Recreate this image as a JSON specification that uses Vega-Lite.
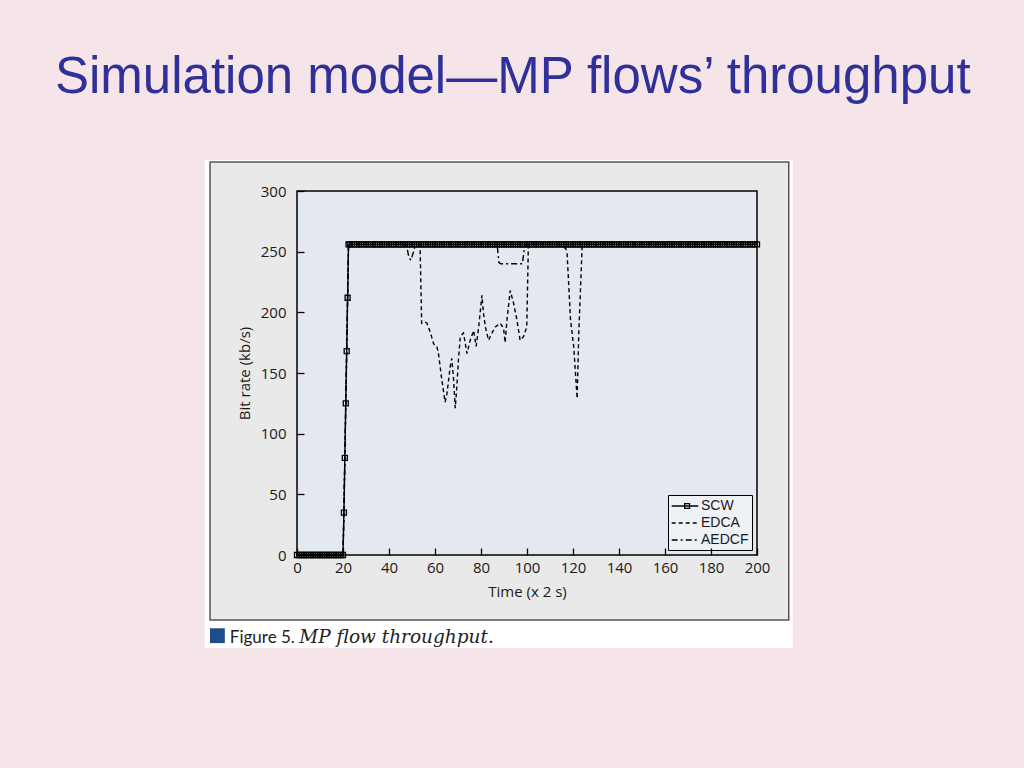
{
  "$schema": "https://vega.github.io/schema/vega-lite/v6.json",
  "width": 460,
  "height": 364,
  "autosize": {"type": "none"},
  "padding": {"left": 297, "top": 191, "right": 267, "bottom": 213},
  "background": "#f5e5e8",
  "title": {
    "text": "Simulation model—MP flows’ throughput",
    "frame": "group",
    "anchor": "start",
    "orient": "top",
    "baseline": "alphabetic",
    "offset": 16,
    "dx": -242,
    "font": "Liberation Sans",
    "fontSize": 51,
    "fontWeight": "normal",
    "color": "#30309a"
  },
  "config": {
    "view": {"stroke": null},
    "axis": {
      "grid": false,
      "domain": false,
      "tickColor": "black",
      "tickWidth": 1.3,
      "labelFont": "Open Sans",
      "labelFontSize": 15,
      "labelColor": "#1a1a1a",
      "titleFont": "Open Sans",
      "titleFontSize": 15,
      "titleFontWeight": "normal",
      "titleColor": "#1a1a1a"
    }
  },
  "datasets": {
    "series": [
      {"s":"SCW","t":0,"v":0},{"s":"SCW","t":1,"v":0},{"s":"SCW","t":2,"v":0},{"s":"SCW","t":3,"v":0},{"s":"SCW","t":4,"v":0},{"s":"SCW","t":5,"v":0},{"s":"SCW","t":6,"v":0},{"s":"SCW","t":7,"v":0},{"s":"SCW","t":8,"v":0},{"s":"SCW","t":9,"v":0},{"s":"SCW","t":10,"v":0},{"s":"SCW","t":11,"v":0},{"s":"SCW","t":12,"v":0},{"s":"SCW","t":13,"v":0},{"s":"SCW","t":14,"v":0},{"s":"SCW","t":15,"v":0},{"s":"SCW","t":16,"v":0},{"s":"SCW","t":17,"v":0},{"s":"SCW","t":18,"v":0},{"s":"SCW","t":19,"v":0},{"s":"SCW","t":20,"v":0},
      {"s":"SCW","t":20.4,"v":35},{"s":"SCW","t":20.8,"v":80},{"s":"SCW","t":21.2,"v":125},{"s":"SCW","t":21.6,"v":168},{"s":"SCW","t":22,"v":212},{"s":"SCW","t":22.4,"v":256},
      {"s":"SCW","t":23,"v":256},{"s":"SCW","t":24,"v":256},{"s":"SCW","t":25,"v":256},{"s":"SCW","t":26,"v":256},{"s":"SCW","t":27,"v":256},{"s":"SCW","t":28,"v":256},{"s":"SCW","t":29,"v":256},{"s":"SCW","t":30,"v":256},{"s":"SCW","t":31,"v":256},{"s":"SCW","t":32,"v":256},{"s":"SCW","t":33,"v":256},{"s":"SCW","t":34,"v":256},{"s":"SCW","t":35,"v":256},{"s":"SCW","t":36,"v":256},{"s":"SCW","t":37,"v":256},{"s":"SCW","t":38,"v":256},{"s":"SCW","t":39,"v":256},{"s":"SCW","t":40,"v":256},
      {"s":"SCW","t":41,"v":256},{"s":"SCW","t":42,"v":256},{"s":"SCW","t":43,"v":256},{"s":"SCW","t":44,"v":256},{"s":"SCW","t":45,"v":256},{"s":"SCW","t":46,"v":256},{"s":"SCW","t":47,"v":256},{"s":"SCW","t":48,"v":256},{"s":"SCW","t":49,"v":256},{"s":"SCW","t":50,"v":256},{"s":"SCW","t":51,"v":256},{"s":"SCW","t":52,"v":256},{"s":"SCW","t":53,"v":256},{"s":"SCW","t":54,"v":256},{"s":"SCW","t":55,"v":256},{"s":"SCW","t":56,"v":256},{"s":"SCW","t":57,"v":256},{"s":"SCW","t":58,"v":256},{"s":"SCW","t":59,"v":256},{"s":"SCW","t":60,"v":256},
      {"s":"SCW","t":61,"v":256},{"s":"SCW","t":62,"v":256},{"s":"SCW","t":63,"v":256},{"s":"SCW","t":64,"v":256},{"s":"SCW","t":65,"v":256},{"s":"SCW","t":66,"v":256},{"s":"SCW","t":67,"v":256},{"s":"SCW","t":68,"v":256},{"s":"SCW","t":69,"v":256},{"s":"SCW","t":70,"v":256},{"s":"SCW","t":71,"v":256},{"s":"SCW","t":72,"v":256},{"s":"SCW","t":73,"v":256},{"s":"SCW","t":74,"v":256},{"s":"SCW","t":75,"v":256},{"s":"SCW","t":76,"v":256},{"s":"SCW","t":77,"v":256},{"s":"SCW","t":78,"v":256},{"s":"SCW","t":79,"v":256},{"s":"SCW","t":80,"v":256},
      {"s":"SCW","t":81,"v":256},{"s":"SCW","t":82,"v":256},{"s":"SCW","t":83,"v":256},{"s":"SCW","t":84,"v":256},{"s":"SCW","t":85,"v":256},{"s":"SCW","t":86,"v":256},{"s":"SCW","t":87,"v":256},{"s":"SCW","t":88,"v":256},{"s":"SCW","t":89,"v":256},{"s":"SCW","t":90,"v":256},{"s":"SCW","t":91,"v":256},{"s":"SCW","t":92,"v":256},{"s":"SCW","t":93,"v":256},{"s":"SCW","t":94,"v":256},{"s":"SCW","t":95,"v":256},{"s":"SCW","t":96,"v":256},{"s":"SCW","t":97,"v":256},{"s":"SCW","t":98,"v":256},{"s":"SCW","t":99,"v":256},{"s":"SCW","t":100,"v":256},
      {"s":"SCW","t":101,"v":256},{"s":"SCW","t":102,"v":256},{"s":"SCW","t":103,"v":256},{"s":"SCW","t":104,"v":256},{"s":"SCW","t":105,"v":256},{"s":"SCW","t":106,"v":256},{"s":"SCW","t":107,"v":256},{"s":"SCW","t":108,"v":256},{"s":"SCW","t":109,"v":256},{"s":"SCW","t":110,"v":256},{"s":"SCW","t":111,"v":256},{"s":"SCW","t":112,"v":256},{"s":"SCW","t":113,"v":256},{"s":"SCW","t":114,"v":256},{"s":"SCW","t":115,"v":256},{"s":"SCW","t":116,"v":256},{"s":"SCW","t":117,"v":256},{"s":"SCW","t":118,"v":256},{"s":"SCW","t":119,"v":256},{"s":"SCW","t":120,"v":256},
      {"s":"SCW","t":121,"v":256},{"s":"SCW","t":122,"v":256},{"s":"SCW","t":123,"v":256},{"s":"SCW","t":124,"v":256},{"s":"SCW","t":125,"v":256},{"s":"SCW","t":126,"v":256},{"s":"SCW","t":127,"v":256},{"s":"SCW","t":128,"v":256},{"s":"SCW","t":129,"v":256},{"s":"SCW","t":130,"v":256},{"s":"SCW","t":131,"v":256},{"s":"SCW","t":132,"v":256},{"s":"SCW","t":133,"v":256},{"s":"SCW","t":134,"v":256},{"s":"SCW","t":135,"v":256},{"s":"SCW","t":136,"v":256},{"s":"SCW","t":137,"v":256},{"s":"SCW","t":138,"v":256},{"s":"SCW","t":139,"v":256},{"s":"SCW","t":140,"v":256},
      {"s":"SCW","t":141,"v":256},{"s":"SCW","t":142,"v":256},{"s":"SCW","t":143,"v":256},{"s":"SCW","t":144,"v":256},{"s":"SCW","t":145,"v":256},{"s":"SCW","t":146,"v":256},{"s":"SCW","t":147,"v":256},{"s":"SCW","t":148,"v":256},{"s":"SCW","t":149,"v":256},{"s":"SCW","t":150,"v":256},{"s":"SCW","t":151,"v":256},{"s":"SCW","t":152,"v":256},{"s":"SCW","t":153,"v":256},{"s":"SCW","t":154,"v":256},{"s":"SCW","t":155,"v":256},{"s":"SCW","t":156,"v":256},{"s":"SCW","t":157,"v":256},{"s":"SCW","t":158,"v":256},{"s":"SCW","t":159,"v":256},{"s":"SCW","t":160,"v":256},
      {"s":"SCW","t":161,"v":256},{"s":"SCW","t":162,"v":256},{"s":"SCW","t":163,"v":256},{"s":"SCW","t":164,"v":256},{"s":"SCW","t":165,"v":256},{"s":"SCW","t":166,"v":256},{"s":"SCW","t":167,"v":256},{"s":"SCW","t":168,"v":256},{"s":"SCW","t":169,"v":256},{"s":"SCW","t":170,"v":256},{"s":"SCW","t":171,"v":256},{"s":"SCW","t":172,"v":256},{"s":"SCW","t":173,"v":256},{"s":"SCW","t":174,"v":256},{"s":"SCW","t":175,"v":256},{"s":"SCW","t":176,"v":256},{"s":"SCW","t":177,"v":256},{"s":"SCW","t":178,"v":256},{"s":"SCW","t":179,"v":256},{"s":"SCW","t":180,"v":256},
      {"s":"SCW","t":181,"v":256},{"s":"SCW","t":182,"v":256},{"s":"SCW","t":183,"v":256},{"s":"SCW","t":184,"v":256},{"s":"SCW","t":185,"v":256},{"s":"SCW","t":186,"v":256},{"s":"SCW","t":187,"v":256},{"s":"SCW","t":188,"v":256},{"s":"SCW","t":189,"v":256},{"s":"SCW","t":190,"v":256},{"s":"SCW","t":191,"v":256},{"s":"SCW","t":192,"v":256},{"s":"SCW","t":193,"v":256},{"s":"SCW","t":194,"v":256},{"s":"SCW","t":195,"v":256},{"s":"SCW","t":196,"v":256},{"s":"SCW","t":197,"v":256},{"s":"SCW","t":198,"v":256},{"s":"SCW","t":199,"v":256},{"s":"SCW","t":200,"v":256},

      {"s":"EDCA","t":0,"v":0},{"s":"EDCA","t":20,"v":0},{"s":"EDCA","t":20.4,"v":35},{"s":"EDCA","t":20.8,"v":80},{"s":"EDCA","t":21.2,"v":125},{"s":"EDCA","t":21.6,"v":168},{"s":"EDCA","t":22,"v":212},{"s":"EDCA","t":22.4,"v":256},
      {"s":"EDCA","t":53.5,"v":256},{"s":"EDCA","t":54.2,"v":191},{"s":"EDCA","t":55.7,"v":192},{"s":"EDCA","t":56.5,"v":191},{"s":"EDCA","t":57.9,"v":184},{"s":"EDCA","t":59.4,"v":174},{"s":"EDCA","t":60.8,"v":172},{"s":"EDCA","t":61.5,"v":166},{"s":"EDCA","t":63,"v":144},{"s":"EDCA","t":64.4,"v":126},{"s":"EDCA","t":65.2,"v":133},{"s":"EDCA","t":66.6,"v":155},{"s":"EDCA","t":67.3,"v":162},{"s":"EDCA","t":68.1,"v":144},{"s":"EDCA","t":68.8,"v":121},{"s":"EDCA","t":69.5,"v":139},{"s":"EDCA","t":70.2,"v":161},{"s":"EDCA","t":71,"v":180},{"s":"EDCA","t":72.4,"v":183},{"s":"EDCA","t":73.9,"v":166},{"s":"EDCA","t":75.3,"v":177},{"s":"EDCA","t":76.8,"v":185},{"s":"EDCA","t":77.9,"v":172},{"s":"EDCA","t":79,"v":188},{"s":"EDCA","t":80.4,"v":214},{"s":"EDCA","t":81.1,"v":199},{"s":"EDCA","t":81.9,"v":188},{"s":"EDCA","t":83.3,"v":177},{"s":"EDCA","t":84.8,"v":183},{"s":"EDCA","t":86.2,"v":188},{"s":"EDCA","t":88.4,"v":191},{"s":"EDCA","t":89.8,"v":187},{"s":"EDCA","t":90.5,"v":175},{"s":"EDCA","t":91.3,"v":194},{"s":"EDCA","t":92.7,"v":218},{"s":"EDCA","t":94.1,"v":208},{"s":"EDCA","t":95.6,"v":194},{"s":"EDCA","t":97,"v":177},{"s":"EDCA","t":98.5,"v":180},{"s":"EDCA","t":99.9,"v":188},{"s":"EDCA","t":100.6,"v":256},
      {"s":"EDCA","t":116,"v":256},{"s":"EDCA","t":117.4,"v":250},{"s":"EDCA","t":118.9,"v":194},{"s":"EDCA","t":120.3,"v":172},{"s":"EDCA","t":121,"v":152},{"s":"EDCA","t":121.8,"v":129},{"s":"EDCA","t":122.5,"v":182},{"s":"EDCA","t":124,"v":256},{"s":"EDCA","t":200,"v":256},

      {"s":"AEDCF","t":0,"v":0},{"s":"AEDCF","t":20,"v":0},{"s":"AEDCF","t":20.4,"v":35},{"s":"AEDCF","t":20.8,"v":80},{"s":"AEDCF","t":21.2,"v":125},{"s":"AEDCF","t":21.6,"v":168},{"s":"AEDCF","t":22,"v":212},{"s":"AEDCF","t":22.4,"v":256},
      {"s":"AEDCF","t":47.5,"v":256},{"s":"AEDCF","t":48.7,"v":245},{"s":"AEDCF","t":49.5,"v":243},{"s":"AEDCF","t":50.7,"v":250},{"s":"AEDCF","t":51.5,"v":256},
      {"s":"AEDCF","t":87,"v":256},{"s":"AEDCF","t":87.8,"v":241},{"s":"AEDCF","t":88.6,"v":240},{"s":"AEDCF","t":98,"v":240},{"s":"AEDCF","t":98.8,"v":252},{"s":"AEDCF","t":99.5,"v":256},
      {"s":"AEDCF","t":114.5,"v":256},{"s":"AEDCF","t":116.5,"v":253},{"s":"AEDCF","t":117.5,"v":256},{"s":"AEDCF","t":200,"v":256}
    ]
  },
  "layer": [
    {
      "data": {"values": [{}]},
      "mark": {"type": "rect", "fill": "#ffffff", "clip": false},
      "encoding": {
        "x": {"datum": -40.1, "type": "quantitative"},
        "x2": {"datum": 215.5},
        "y": {"datum": 325.6, "type": "quantitative"},
        "y2": {"datum": -76.7}
      }
    },
    {
      "data": {"values": [{}]},
      "mark": {"type": "rect", "fill": "#e9e9e9", "stroke": "#555555", "strokeWidth": 1.5, "clip": false},
      "encoding": {
        "x": {"datum": -37.8, "type": "quantitative"},
        "x2": {"datum": 213.8},
        "y": {"datum": 324, "type": "quantitative"},
        "y2": {"datum": -53.6}
      }
    },
    {
      "data": {"values": [{}]},
      "mark": {"type": "rect", "fill": "#e4e8f0", "stroke": "#000000", "strokeWidth": 1.5},
      "encoding": {
        "x": {"datum": 0, "type": "quantitative"},
        "x2": {"datum": 200},
        "y": {"datum": 300, "type": "quantitative"},
        "y2": {"datum": 0}
      }
    },
    {
      "data": {"values": [{}]},
      "mark": {"type": "point", "shape": "square", "filled": true, "color": "#1c4f8a", "size": 220, "opacity": 1, "clip": false},
      "encoding": {
        "x": {"datum": -34.6, "type": "quantitative"},
        "y": {"datum": -66.5, "type": "quantitative"}
      }
    },
    {
      "data": {"values": [{"label": "Figure 5."}]},
      "mark": {"type": "text", "align": "left", "baseline": "alphabetic", "font": "Lato", "fontSize": 17, "color": "#222222", "clip": false},
      "encoding": {
        "x": {"datum": -29.2, "type": "quantitative"},
        "y": {"datum": -72.5, "type": "quantitative"},
        "text": {"field": "label"}
      }
    },
    {
      "data": {"values": [{"label": "MP flow throughput."}]},
      "mark": {"type": "text", "align": "left", "baseline": "alphabetic", "font": "DejaVu Serif", "fontStyle": "italic", "fontSize": 18.5, "color": "#222222", "clip": false},
      "encoding": {
        "x": {"datum": 1, "type": "quantitative"},
        "y": {"datum": -72.5, "type": "quantitative"},
        "text": {"field": "label"}
      }
    },
    {
      "data": {"name": "series"},
      "mark": {"type": "line", "color": "black", "strokeWidth": 1.4},
      "encoding": {
        "x": {"field": "t", "type": "quantitative", "scale": {"domain": [0, 200], "nice": false, "zero": false}, "axis": {"zindex": 1, "values": [0,20,40,60,80,100,120,140,160,180,200], "tickSize": -7, "labelPadding": 12, "title": "Time (x 2 s)", "titlePadding": 9, "labelFlush": false}},
        "y": {"field": "v", "type": "quantitative", "scale": {"domain": [0, 300], "nice": false, "zero": false}, "axis": {"zindex": 1, "values": [0,50,100,150,200,250,300], "tickSize": -7, "labelPadding": 18, "title": "Bit rate (kb/s)", "titlePadding": 8, "labelFlush": false}},
        "order": {"field": "t", "type": "quantitative"},
        "strokeDash": {
          "field": "s",
          "type": "nominal",
          "scale": {"domain": ["SCW", "EDCA", "AEDCF"], "range": [[1, 0], [4, 3], [6, 3, 2, 3]]},
          "legend": {
            "title": null,
            "orient": "bottom-right",
            "offset": 5,
            "fillColor": "#eef1f6",
            "strokeColor": "black",
            "padding": 3,
            "rowPadding": 2,
            "symbolType": "stroke",
            "symbolSize": 196,
            "symbolOffset": 6,
            "symbolStrokeColor": "black",
            "symbolStrokeWidth": 1.3,
            "labelFont": "Liberation Sans",
            "labelFontSize": 14,
            "labelColor": "#1a1a1a",
            "labelOffset": 8,
            "encode": {
              "symbols": {"update": {"shape": {"signal": "datum.value === 'SCW' ? 'M-1.9,0H1.9M-0.05,-0.35V0.35H0.65V-0.35Z' : 'M-1.9,0H1.9'"}}}
            }
          }
        }
      }
    },
    {
      "data": {"name": "series"},
      "transform": [{"filter": "datum.s === 'SCW'"}],
      "mark": {"type": "point", "shape": "square", "filled": false, "color": "#000000", "size": 25, "strokeWidth": 1.3, "opacity": 1},
      "encoding": {
        "x": {"field": "t", "type": "quantitative"},
        "y": {"field": "v", "type": "quantitative"}
      }
    }
  ]
}
